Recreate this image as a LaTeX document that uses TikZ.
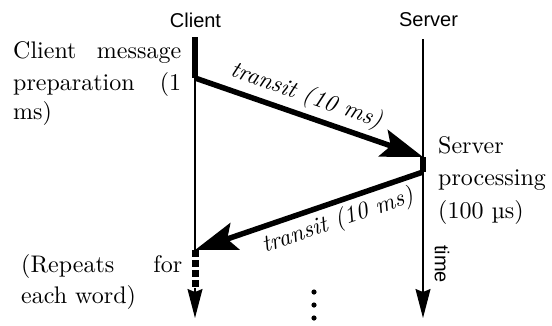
\documentclass[tikz,border=0pt]{standalone}
\usepackage{fontspec}
\setmainfont{lmroman10-regular.otf}[ItalicFont=lmroman10-italic.otf]
\newfontfamily\hv{Liberation Sans}
\usetikzlibrary{arrows.meta}
\begin{document}
\begin{tikzpicture}[x=1pt,y=1pt,
  hdr/.style={font={\hv\fontsize{20}{24}\selectfont}, inner sep=0},
  body/.style={font={\fontsize{24}{28}\selectfont}, inner sep=0, anchor=base west},
  lbl/.style={font={\itshape\fontsize{24}{28}\selectfont}, inner sep=0},
  life/.style={line width=1.3pt},
  heavy/.style={line width=6.5pt},
  msg/.style={line width=5.5pt, -{Stealth[length=42pt,width=28pt,inset=8pt]}},
  endtip/.style={life, -{Stealth[length=29pt,width=15pt,inset=3pt]}},
]
\useasboundingbox (0,0) rectangle (552,-325);
% coordinates
\coordinate (c0) at (195,-37);
\coordinate (c1) at (195,-78);
\coordinate (c2) at (195,-250);
\coordinate (c3) at (195,-288);
\coordinate (c4) at (195,-318);
\coordinate (s0) at (423,-39);
\coordinate (s1) at (423,-157);
\coordinate (s2) at (423,-172);
\coordinate (s4) at (423,-318);
% headers
\node[hdr, anchor=base] (clienthdr) at (195.5,-27) {Client};
\node[hdr, anchor=base] (serverhdr) at (428.5,-26.5) {Server};
% lifelines
\draw[life] (c1) -- (c2);
\draw[endtip] (s0) -- (s4);
\draw[heavy] (c0) -- (c1);
\draw[heavy] (s1) -- (s2);
\draw[line width=7pt, dash pattern=on 7pt off 3pt] (c2) -- (c3);
\draw[endtip] (c3) -- (c4);
% messages
\draw[msg] (c1) -- (s1) node[lbl, sloped, pos=0.46, above=4.5pt] (tr1) {transit (10 ms)};
\draw[msg] (s2) -- (c2);
\path (c2) -- (s2) node[lbl, sloped, pos=0.6, below=7pt] (tr2) {transit (10 ms)};
% time label
\node[hdr, rotate=-90] (timelbl) at (442,-264) {time};
% texts
\node[body] (prep1) at (13,-58) {\makebox[168pt][s]{Client message}};
\node[body] (prep2) at (13,-90) {\makebox[168pt][s]{preparation (1}};
\node[body] (prep3) at (13,-119) {ms)};
\node[body] (proc1) at (438,-153) {Server};
\node[body] (proc2) at (438,-185) {processing};
\node[body] (proc3) at (438,-218) {(100 µs)};
\node[body] (rep1) at (21,-272) {\makebox[161pt][s]{(Repeats for}};
\node[body] (rep2) at (21,-303) {each word)};
% ellipsis
\fill (314,-292) circle (2.6);
\fill (314,-305) circle (2.6);
\fill (314,-318) circle (2.6);
\end{tikzpicture}
\end{document}
